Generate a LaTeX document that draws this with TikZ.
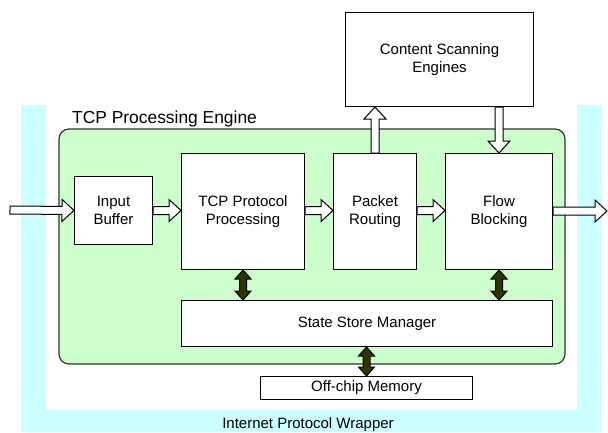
\documentclass[tikz,border=0pt]{standalone}
\usepackage{fontspec}
\setmainfont{Liberation Sans}
\usetikzlibrary{calc}
\definecolor{engfill}{HTML}{CCFFCC}
\definecolor{wrapfill}{HTML}{CCFFFF}
\definecolor{dbl}{HTML}{333300}
\tikzset{
  blk/.style={draw=black, fill=white, line width=1pt, align=center, anchor=north west, inner sep=0pt,
    font=\fontsize{15}{17.5}\selectfont},
  hollow/.style={draw=black, fill=white, line width=1pt, line join=miter},
  dark/.style={draw=black, fill=dbl, line width=1pt, line join=miter},
  lbl/.style={inner sep=0pt, font=\fontsize{15}{17.5}\selectfont},
}
% single block arrow: #1 style, #2 from, #3 to (tip), #4 shaft half, #5 head half, #6 head length
\newcommand\blockarrow[6]{%
  \path ($(#3)!#6!(#2)$) coordinate (hA);
  \draw[#1] ($(#2)!#4!90:(#3)$) -- ($(hA)!#4!90:(#3)$) -- ($(hA)!#5!90:(#3)$) -- (#3)
    -- ($(hA)!#5!-90:(#3)$) -- ($(hA)!#4!-90:(#3)$) -- ($(#2)!#4!-90:(#3)$) -- cycle;}
% double block arrow
\newcommand\dblarrow[6]{%
  \path ($(#3)!#6!(#2)$) coordinate (hA);
  \path ($(#2)!#6!(#3)$) coordinate (hB);
  \draw[#1] (#2) -- ($(hB)!#5!90:(#3)$) -- ($(hB)!#4!90:(#3)$) -- ($(hA)!#4!90:(#3)$)
    -- ($(hA)!#5!90:(#3)$) -- (#3) -- ($(hA)!#5!-90:(#3)$) -- ($(hA)!#4!-90:(#3)$)
    -- ($(hB)!#4!-90:(#3)$) -- ($(hB)!#5!-90:(#3)$) -- cycle;}
\begin{document}
\begin{tikzpicture}[x=1pt, y=-1pt]
\useasboundingbox (0,0) rectangle (608,432);
% wrapper
\fill[wrapfill] (21,105) rectangle (46,432);
\fill[wrapfill] (21,410) rectangle (602,432);
\fill[wrapfill] (577,105) rectangle (602,432);
\node[lbl, anchor=base] (wraplbl) at (308,428) {Internet Protocol Wrapper};
% engine
\draw[fill=engfill, draw=black!80, line width=1.2pt, rounded corners=10pt] (59,129) rectangle (565,364);
\node[inner sep=0pt, anchor=base west, font=\fontsize{17.4}{20}\selectfont] (englbl) at (72,123) {TCP Processing Engine};
% blocks
\node[blk, minimum width=78pt, minimum height=68pt] (ib) at (74,176) {Input\\Buffer};
\node[blk, minimum width=123pt, minimum height=116pt] (tcp) at (181,153) {TCP Protocol\\Processing};
\node[blk, minimum width=83pt, minimum height=116pt] (pr) at (333,153) {Packet\\Routing};
\node[blk, minimum width=107pt, minimum height=116pt] (fb) at (445,153) {Flow\\Blocking};
\node[blk, minimum width=188pt, minimum height=94pt] (cse) at (345,12) {Content Scanning\\Engines};
\node[blk, minimum width=371pt, minimum height=46pt] (ssm) at (181,300) {State Store Manager};
\node[blk, minimum width=212pt, minimum height=23pt] (ocm) at (260,376) {Off-chip Memory};
% connector end points
\coordinate (inS) at (10,210);
\coordinate (outE) at (607,211);
\coordinate (t1) at (tcp.west |- ib.east);
\coordinate (t2) at (pr.west |- ib.east);
\coordinate (t3) at (fb.west |- ib.east);
\coordinate (s2) at (tcp.east |- ib.east);
\coordinate (s3) at (pr.east |- ib.east);
\coordinate (fbE) at (fb.east |- outE);
\coordinate (csL) at (cse.south -| pr.north);
\coordinate (csR) at (cse.south -| fb.north);
\coordinate (ssTL) at (ssm.north -| tcp.south);
\coordinate (ssTR) at (ssm.north -| fb.south);
\coordinate (ssB) at (ssm.south -| ocm.north);
% hollow arrows
\blockarrow{hollow}{inS}{ib.west}{4pt}{11pt}{12pt}
\blockarrow{hollow}{ib.east}{t1}{4pt}{11pt}{12pt}
\blockarrow{hollow}{s2}{t2}{4pt}{11pt}{12pt}
\blockarrow{hollow}{s3}{t3}{4pt}{11pt}{12pt}
\blockarrow{hollow}{fbE}{outE}{4pt}{11pt}{12pt}
\blockarrow{hollow}{pr.north}{csL}{4pt}{11pt}{12pt}
\blockarrow{hollow}{csR}{fb.north}{4pt}{11pt}{12pt}
% double arrows
\dblarrow{dark}{tcp.south}{ssTL}{3.5pt}{8pt}{9pt}
\dblarrow{dark}{fb.south}{ssTR}{3.5pt}{8pt}{9pt}
\dblarrow{dark}{ssB}{ocm.north}{3.5pt}{8pt}{9pt}
\end{tikzpicture}
\end{document}
